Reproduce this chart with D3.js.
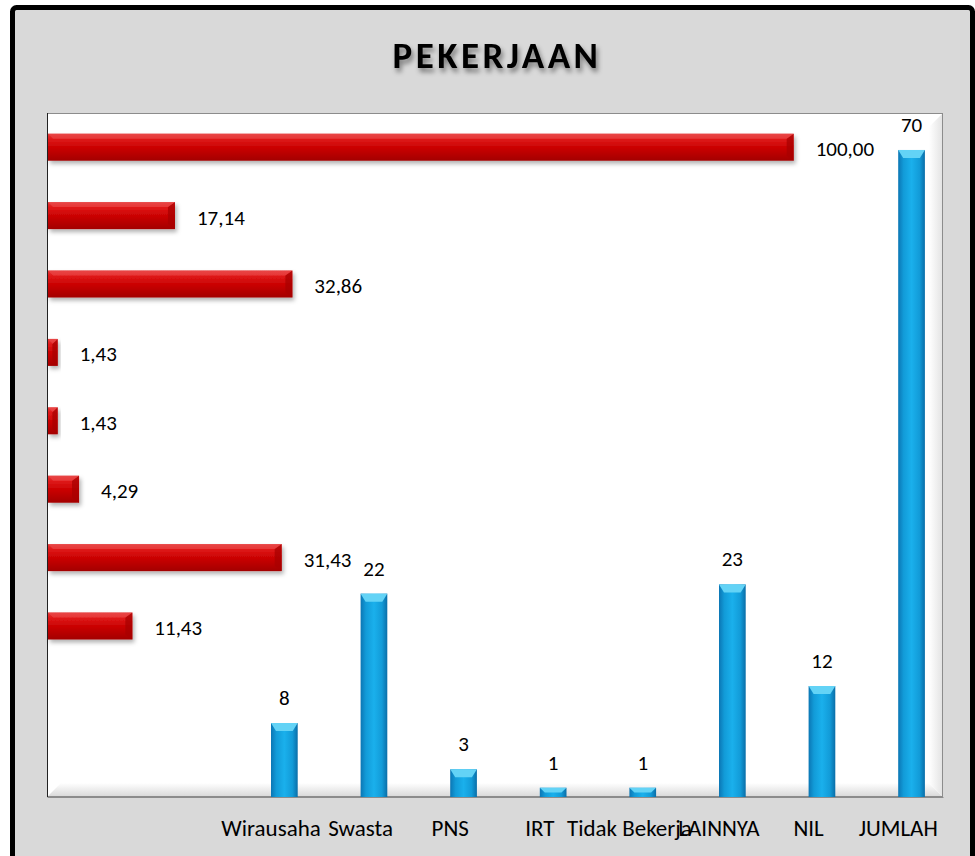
<!DOCTYPE html>
<html lang="id">
<head>
<meta charset="utf-8">
<title>Pekerjaan</title>
<style>
body { margin: 0; background: #ffffff; }
svg { display: block; }
.label { font-family: Carlito, Lato, sans-serif; font-size: 21px; fill: #000; }
.axis-label { font-family: Carlito, Lato, sans-serif; font-size: 23px; fill: #000; }
.title { font-family: Carlito, Lato, sans-serif; font-size: 37px; font-weight: 700; letter-spacing: 3.5px; }
</style>
</head>
<body>
<svg width="975" height="856"></svg>

<script src="https://cdn.jsdelivr.net/npm/d3@7"></script>
<script>

// occupations and their counts / percentages
const categories = ["Wirausaha", "Swasta", "PNS", "IRT", "Tidak Bekerja", "LAINNYA", "NIL", "JUMLAH"];
const counts = [8, 22, 3, 1, 1, 23, 12, 70];
const percents = [11.43, 31.43, 4.29, 1.43, 1.43, 32.86, 17.14, 100];
// the sheet has two empty rows before the first category
const blankSlots = ["_blank1", "_blank2"];
const slots = blankSlots.concat(categories);
const seriesKeys = ["persen", "jumlah"];

const svg = d3.select("svg");
const plot = {left: 47, top: 113, right: 943, bottom: 797};

const fmtPct = d3.formatLocale({decimal: ",", thousands: ".", grouping: [3], currency: ["", ""]}).format(".2f");

// column chart scales (counts)
let x0 = d3.scaleBand().domain(slots).range([plot.left, plot.right]);
let x1 = d3.scaleBand().domain(seriesKeys).range([0, x0.bandwidth()]).paddingOuter(0.678);
let y = d3.scaleLinear().domain([0, 74]).range([plot.bottom, plot.top]);

// bar chart scales (percent), categories run bottom to top
let xPct = d3.scaleLinear().domain([0, 120]).range([plot.left, plot.right]);
let yBand = d3.scaleBand().domain(slots).range([plot.bottom, plot.top])
    .paddingInner(0.605).paddingOuter(0.3025);

const defs = svg.append("defs");

let redGrad = defs.append("linearGradient").attr("id", "redGrad")
    .attr("x1", 0).attr("y1", 0).attr("x2", 0).attr("y2", 1);
redGrad.append("stop").attr("offset", "0%").attr("stop-color", "#e23a3a");
redGrad.append("stop").attr("offset", "18%").attr("stop-color", "#e01a1a");
redGrad.append("stop").attr("offset", "55%").attr("stop-color", "#c80000");
redGrad.append("stop").attr("offset", "100%").attr("stop-color", "#a30000");

let blueGrad = defs.append("linearGradient").attr("id", "blueGrad")
    .attr("x1", 0).attr("y1", 0).attr("x2", 1).attr("y2", 0);
blueGrad.append("stop").attr("offset", "0%").attr("stop-color", "#0b76b4");
blueGrad.append("stop").attr("offset", "20%").attr("stop-color", "#129bd8");
blueGrad.append("stop").attr("offset", "50%").attr("stop-color", "#1ab0ec");
blueGrad.append("stop").attr("offset", "80%").attr("stop-color", "#129bd8");
blueGrad.append("stop").attr("offset", "100%").attr("stop-color", "#0a6ea8");

let floorGrad = defs.append("linearGradient").attr("id", "floorGrad")
    .attr("x1", 0).attr("y1", 0).attr("x2", 0).attr("y2", 1);
floorGrad.append("stop").attr("offset", "0%").attr("stop-color", "#ffffff");
floorGrad.append("stop").attr("offset", "100%").attr("stop-color", "#d8d8d8");

let wallGrad = defs.append("linearGradient").attr("id", "wallGrad")
    .attr("x1", 0).attr("y1", 0).attr("x2", 1).attr("y2", 0);
wallGrad.append("stop").attr("offset", "0%").attr("stop-color", "#ffffff");
wallGrad.append("stop").attr("offset", "100%").attr("stop-color", "#e2e2e2");

defs.append("filter").attr("id", "shadow")
    .attr("x", "-20%").attr("y", "-20%").attr("width", "150%").attr("height", "160%")
  .append("feDropShadow")
    .attr("dx", 2).attr("dy", 3).attr("stdDeviation", 2)
    .attr("flood-color", "#000").attr("flood-opacity", 0.3);

defs.append("filter").attr("id", "titleShadow")
    .attr("x", "-10%").attr("y", "-30%").attr("width", "130%").attr("height", "180%")
  .append("feDropShadow")
    .attr("dx", 2).attr("dy", 4).attr("stdDeviation", 2.5)
    .attr("flood-color", "#000").attr("flood-opacity", 0.45);

// chart area with thick black frame
svg.append("rect")
    .attr("x", 12.5).attr("y", 7.5)
    .attr("width", 960).attr("height", 870)
    .attr("rx", 4)
    .attr("fill", "#d9d9d9")
    .attr("stroke", "#000").attr("stroke-width", 5);

svg.append("text")
    .attr("class", "title")
    .attr("x", (plot.left + plot.right) / 2 + 2)
    .attr("y", 68)
    .attr("text-anchor", "middle")
    .attr("filter", "url(#titleShadow)")
    .text("PEKERJAAN");

// plot area: white with a soft floor and back wall
svg.append("rect")
    .attr("x", plot.left).attr("y", plot.top)
    .attr("width", plot.right - plot.left).attr("height", plot.bottom - plot.top)
    .attr("fill", "#fff");
svg.append("polygon")
    .attr("points", [[plot.left, plot.bottom], [plot.left + 14, plot.bottom - 14],
      [plot.right - 14, plot.bottom - 14], [plot.right, plot.bottom]].join(" "))
    .attr("fill", "url(#floorGrad)");
svg.append("polygon")
    .attr("points", [[plot.right, plot.top], [plot.right - 14, plot.top + 14],
      [plot.right - 14, plot.bottom - 14], [plot.right, plot.bottom]].join(" "))
    .attr("fill", "url(#wallGrad)");
svg.append("rect")
    .attr("x", plot.left + 0.5).attr("y", plot.top + 0.5)
    .attr("width", plot.right - plot.left - 1).attr("height", plot.bottom - plot.top - 1)
    .attr("fill", "none").attr("stroke", "#8c8c8c");
svg.append("line")
    .attr("x1", plot.left + 0.5).attr("x2", plot.left + 0.5)
    .attr("y1", plot.top).attr("y2", plot.bottom)
    .attr("stroke", "#222");

// horizontal percent bars
let pctData = categories.map((c, i) => ({key: c, v: percents[i]}));
let redBars = svg.append("g").selectAll("g")
  .data(pctData)
  .enter().append("g");

redBars.append("rect")
    .attr("x", plot.left + 1)
    .attr("y", d => yBand(d.key))
    .attr("width", d => xPct(d.v) - plot.left - 1)
    .attr("height", yBand.bandwidth())
    .attr("fill", "url(#redGrad)")
    .attr("filter", "url(#shadow)");

// bevel on the bar end
redBars.append("polygon")
    .attr("points", d => {
      let xe = xPct(d.v), yt = yBand(d.key), h = yBand.bandwidth();
      let b = Math.min(7, (xe - plot.left) / 2);
      return [[xe - b, yt + 5], [xe, yt], [xe, yt + h], [xe - b, yt + h - 5]].join(" ");
    })
    .attr("fill", "#a80000").attr("opacity", 0.75);
redBars.append("polygon")
    .attr("points", d => {
      let xe = xPct(d.v), yt = yBand(d.key);
      return [[plot.left + 1, yt], [xe, yt], [xe - Math.min(7, (xe - plot.left) / 2), yt + 5], [plot.left + 6, yt + 5]].join(" ");
    })
    .attr("fill", "#ec5050").attr("opacity", 0.55);

redBars.append("text")
    .attr("class", "label")
    .attr("x", d => xPct(d.v) + 22)
    .attr("y", d => yBand(d.key) + yBand.bandwidth() / 2 + 9)
    .text(d => fmtPct(d.v));

// vertical count columns, second series of each cluster
let countData = categories.map((c, i) => ({key: c, v: counts[i]}));
let cols = svg.append("g").selectAll("g")
  .data(countData)
  .enter().append("g")
    .attr("transform", d => "translate(" + x0(d.key) + ",0)");

cols.append("rect")
    .attr("x", x1("jumlah"))
    .attr("y", d => y(d.v))
    .attr("width", x1.bandwidth())
    .attr("height", d => y(0) - y(d.v))
    .attr("fill", "url(#blueGrad)");

cols.append("polygon")
    .attr("points", d => {
      let xl = x1("jumlah"), w = x1.bandwidth(), yt = y(d.v);
      let b = Math.min(8, (y(0) - yt) / 2);
      return [[xl, yt], [xl + w, yt], [xl + w - 5, yt + b], [xl + 5, yt + b]].join(" ");
    })
    .attr("fill", "#63d3f6");

cols.append("text")
    .attr("class", "label")
    .attr("x", x1("jumlah") + x1.bandwidth() / 2)
    .attr("y", d => y(d.v) - 18)
    .attr("text-anchor", "middle")
    .text(d => d.v);

// category axis
let xAxis = svg.append("g")
    .attr("transform", "translate(0," + plot.bottom + ")")
    .call(d3.axisBottom(x0).tickSize(0).tickPadding(23)
      .tickFormat(d => blankSlots.includes(d) ? "" : d));
xAxis.select(".domain").attr("stroke", "#8c8c8c");
xAxis.selectAll("text")
    .attr("class", "axis-label")
    .attr("dy", "0.71em")
    .style("font-family", null).style("font-size", null);
xAxis.attr("font-family", null).attr("font-size", null);

</script>
</body>
</html>
